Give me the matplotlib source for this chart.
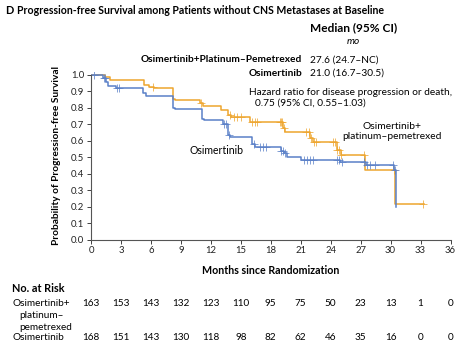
import numpy as np
import matplotlib
matplotlib.use("Agg")
import matplotlib.pyplot as plt
from matplotlib.transforms import blended_transform_factory

plt.rcParams['font.family'] = ['Lato', 'DejaVu Sans']

# Kaplan-Meier steps (months, survival after the step)
combo_t = [0, 1.4, 1.9, 5.3, 5.8, 6.3, 8.2, 8.4, 10.9, 11.2, 13.0, 13.7, 14.0, 15.9,
           19.2, 19.4, 21.9, 22.2, 24.6, 25.0, 27.4, 30.4, 33.3]
combo_s = [1.0, 0.985, 0.968, 0.94, 0.93, 0.918, 0.857, 0.851, 0.83, 0.81, 0.79, 0.755, 0.745, 0.714,
           0.68, 0.655, 0.615, 0.595, 0.544, 0.514, 0.42, 0.216, 0.216]
combo_cens = [6.2, 11.0, 13.9, 14.3, 14.6, 15.0, 16.1, 16.4, 16.6, 18.9, 19.0, 19.1, 19.3,
              21.5, 21.8, 22.0, 22.3, 22.5, 24.2, 24.4, 24.6, 24.8, 25.0, 27.3, 30.3, 33.2]

osi_t = [0, 1.2, 1.5, 1.7, 2.5, 5.2, 5.5, 8.2, 8.4, 11.1, 11.3, 13.2, 13.7, 13.9, 16.1, 16.4,
         19.0, 19.3, 19.6, 21.0, 24.9, 27.5, 30.3, 30.5]
osi_s = [1.0, 0.98, 0.96, 0.935, 0.92, 0.89, 0.87, 0.80, 0.796, 0.735, 0.724, 0.704, 0.633, 0.622,
         0.58, 0.56, 0.54, 0.525, 0.503, 0.483, 0.473, 0.455, 0.42, 0.20]
osi_cens = [0.3, 1.3, 1.45, 2.6, 2.8, 13.3, 13.5, 13.8, 16.3, 16.9, 17.2, 17.5, 19.05, 19.2, 19.4,
            21.3, 21.6, 21.9, 22.2, 24.6, 24.8, 25.1, 27.3, 27.6, 27.9, 28.4, 30.2, 30.4]

risk_times = [0, 3, 6, 9, 12, 15, 18, 21, 24, 27, 30, 33, 36]
risk_combo = [163, 153, 143, 132, 123, 110, 95, 75, 50, 23, 13, 1, 0]
risk_osi = [168, 151, 143, 130, 118, 98, 82, 62, 46, 35, 16, 0, 0]

orange = '#EEA52E'
blue = '#5A80C8'

W, H = 465, 355
fig = plt.figure(figsize=(4.65, 3.55), dpi=100)
ax = fig.add_axes([91/W, 1-239.5/H, 359.5/W, 164.5*1.02/H])


def km(ax, t, s, cens, color):
    ax.step(t, s, where='post', color=color, lw=1.1)
    idx = np.searchsorted(t, cens, side='right') - 1
    ax.plot(cens, np.array(s)[idx], '+', color=color, ms=6, mew=0.7, alpha=0.75)


km(ax, combo_t, combo_s, combo_cens, orange)
km(ax, osi_t, osi_s, osi_cens, blue)

ax.set_xlim(0, 36)
ax.set_ylim(0, 1.02)
ax.set_xticks(risk_times)
ax.set_yticks(np.arange(0, 1.01, 0.1))
ax.set_yticklabels([f'{v:.1f}' for v in np.arange(0, 1.01, 0.1)])
for side in ['top', 'right']:
    ax.spines[side].set_visible(False)
ax.spines['left'].set_bounds(0, 1.0)
ax.spines['left'].set_color('#555555')
ax.spines['bottom'].set_color('#555555')
ax.tick_params(labelsize=6.8, length=3, width=0.6, colors='#222222', pad=2)
ax.set_xlabel('Months since Randomization', fontsize=7.7, fontweight='bold', labelpad=7)
ax.set_ylabel('Probability of Progression-free Survival', fontsize=7.3, fontweight='bold', labelpad=7)

# curve labels
ax.text(12.6, 0.544, 'Osimertinib', fontsize=7.6, ha='center', va='center')
ax.text(30.1, 0.657, 'Osimertinib+\nplatinum\u2013pemetrexed', fontsize=7.4, ha='center', va='center',
        linespacing=1.05)

# header texts
fig.text(5/W, 1-11/H, 'D', fontsize=7.8, fontweight='bold', va='center', ha='left')
fig.text(17/W, 1-11/H, 'Progression-free Survival among Patients without CNS Metastases at Baseline',
         fontsize=7.6, fontweight='bold', va='center', ha='left')
fig.text(354/W, 1-28/H, 'Median (95% CI)', fontsize=8.6, fontweight='bold', ha='center', va='center')
fig.text(353/W, 1-42/H, 'mo', fontsize=7.3, style='italic', ha='center', va='center')
fig.text(302/W, 1-60/H, 'Osimertinib+Platinum\u2013Pemetrexed', fontsize=7.3, fontweight='bold',
         ha='right', va='center')
fig.text(310/W, 1-60/H, '27.6 (24.7\u2013NC)', fontsize=7.3, ha='left', va='center')
fig.text(302/W, 1-73/H, 'Osimertinib', fontsize=7.3, fontweight='bold', ha='right', va='center')
fig.text(310/W, 1-73/H, '21.0 (16.7\u201330.5)', fontsize=7.3, ha='left', va='center')
fig.text(249/W, 1-92.5/H, 'Hazard ratio for disease progression or death,', fontsize=7.3,
         ha='left', va='center')
fig.text(255/W, 1-103/H, '0.75 (95% CI, 0.55\u20131.03)', fontsize=7.3, ha='left', va='center')

# risk table
tr = blended_transform_factory(ax.transData, fig.transFigure)
fig.text(12/W, 1-289/H, 'No. at Risk', fontsize=7.8, fontweight='bold', va='center')
fig.text(12/W, 1-303/H, 'Osimertinib+', fontsize=7.2, va='center')
fig.text(19/W, 1-315.5/H, 'platinum\u2013', fontsize=7.2, va='center')
fig.text(19/W, 1-327/H, 'pemetrexed', fontsize=7.2, va='center')
fig.text(12/W, 1-338/H, 'Osimertinib', fontsize=7.2, va='center')
for t, a, b in zip(risk_times, risk_combo, risk_osi):
    ax.text(t, 1-303/H, str(a), transform=tr, fontsize=7.2, ha='center', va='center')
    ax.text(t, 1-338/H, str(b), transform=tr, fontsize=7.2, ha='center', va='center')

fig.savefig('out.png', dpi=100)
